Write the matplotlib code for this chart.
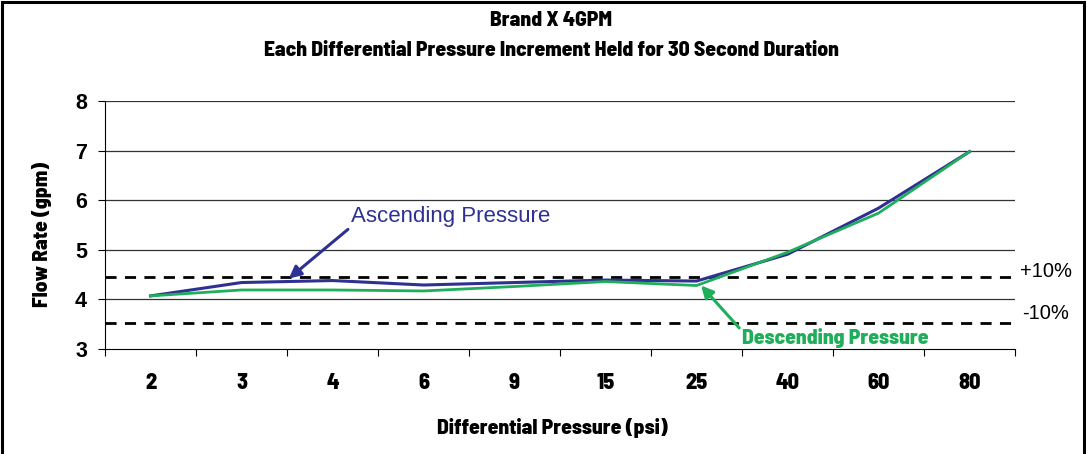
import matplotlib
matplotlib.use('Agg')
import matplotlib.pyplot as plt
from matplotlib.patches import Rectangle

# 数据
pressures = ['2', '3', '4', '6', '9', '15', '25', '40', '60', '80']
ascending = [4.07, 4.34, 4.38, 4.29, 4.34, 4.39, 4.37, 4.91, 5.84, 6.98]
descending = [4.07, 4.19, 4.19, 4.17, 4.26, 4.36, 4.28, 4.95, 5.74, 6.98]
upper_limit = 4.45
lower_limit = 3.53
y_ticks = [3, 4, 5, 6, 7, 8]

blue = '#2e3192'
green = '#1fae5a'
narrow = ['Barlow Semi Condensed', 'DejaVu Sans']
plain = ['Liberation Sans', 'DejaVu Sans']
heavy = 800

fig = plt.figure(figsize=(10.87, 4.54), dpi=100)
ax = fig.add_axes([0.0966, 0.2313, 0.8372, 0.5462])

# 外框
fig.patches.append(Rectangle((0.002, -0.01), 0.995, 1.005, transform=fig.transFigure,
                             fill=False, edgecolor='black', linewidth=2.2))

x = list(range(len(pressures)))

# 网格线
for v in y_ticks[1:]:
    ax.axhline(v, color='#333333', linewidth=0.9, zorder=1)

# +/-10% 虚线
ax.axhline(upper_limit, color='black', linestyle=(0, (4, 3)), linewidth=2, zorder=2)
ax.axhline(lower_limit, color='black', linestyle=(0, (4, 3)), linewidth=2, zorder=2)

# 曲线
ax.plot(x, ascending, color=blue, linewidth=2.2, zorder=3)
ax.plot(x, descending, color=green, linewidth=2, zorder=4)

ax.set_xlim(-0.5, len(pressures) - 0.5)
ax.set_ylim(3, 8)
ax.set_yticks(y_ticks)
ax.set_yticklabels([str(v) for v in y_ticks], fontsize=15.5, fontweight='bold', family=plain)
ax.tick_params(axis='y', length=5, width=0.8, pad=8)

ax.set_xticks([i - 0.5 for i in range(len(pressures) + 1)])
ax.set_xticklabels([])
ax.tick_params(axis='x', length=5, width=0.8)
for i, p in enumerate(pressures):
    ax.text(i, -0.095, p, transform=ax.get_xaxis_transform(), ha='center', va='top',
            fontsize=16, fontweight=heavy, family=narrow)

for s in ['top', 'right']:
    ax.spines[s].set_visible(False)
ax.spines['left'].set_linewidth(0.8)
ax.spines['bottom'].set_linewidth(0.8)

# 坐标轴标题
fig.text(552 / 1087, 1 - 428 / 454, 'Differential Pressure (psi)', ha='center', va='center',
         fontsize=15.5, fontweight=heavy, family=narrow)
fig.text(42 / 1087, 1 - 234 / 454, 'Flow Rate (gpm)', ha='center', va='center', rotation=90,
         fontsize=15.5, fontweight=heavy, family=narrow)

# 标题
fig.text(0.507, 1 - 20 / 454, 'Brand X 4GPM', ha='center', va='center',
         fontsize=15.5, fontweight=heavy, family=narrow)
fig.text(0.507, 1 - 50 / 454, 'Each Differential Pressure Increment Held for 30 Second Duration',
         ha='center', va='center', fontsize=15.5, fontweight=heavy, family=narrow)

# 注释
ax.annotate('Ascending Pressure', xy=(1.52, 4.42), xytext=(2.2, 5.67),
            color=blue, fontsize=16, family=plain, ha='left', va='center',
            arrowprops=dict(arrowstyle='-|>', color=blue, lw=2.2, mutation_scale=18,
                            shrinkA=0, shrinkB=0, relpos=(0.0, 0.0)))
ax.annotate('Descending Pressure', xy=(6.05, 4.28), xytext=(6.5, 3.22),
            color=green, fontsize=15.5, fontweight=heavy, family=narrow, ha='left', va='center',
            arrowprops=dict(arrowstyle='-|>', color=green, lw=2.2, mutation_scale=18,
                            shrinkA=0, shrinkB=0, relpos=(0.0, 0.85)))

ax.text(1.005, upper_limit + 0.12, '+10%', transform=ax.get_yaxis_transform(), ha='left', va='center',
        fontsize=14.5, family=plain, clip_on=False)
ax.text(1.008, lower_limit + 0.18, '-10%', transform=ax.get_yaxis_transform(), ha='left', va='center',
        fontsize=14.5, family=plain, clip_on=False)

fig.savefig('out.png', dpi=100)
